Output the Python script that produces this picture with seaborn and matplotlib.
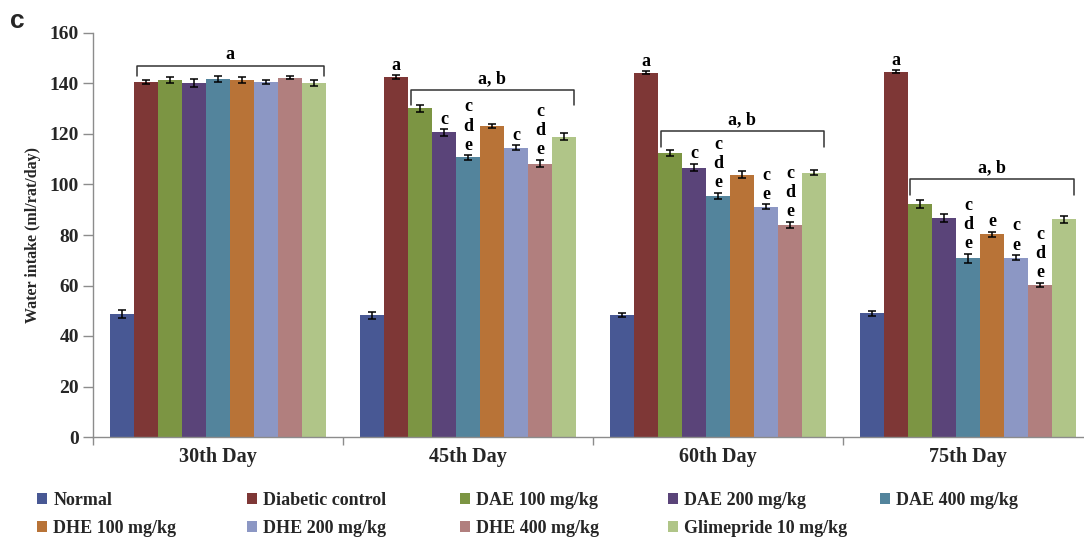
import numpy as np
import pandas as pd
import matplotlib
matplotlib.use("Agg")
import matplotlib.pyplot as plt
import seaborn as sns

# ---------------- data ----------------
days = ["30th Day", "45th Day", "60th Day", "75th Day"]
groups = ["Normal", "Diabetic control", "DAE 100 mg/kg", "DAE 200 mg/kg",
          "DAE 400 mg/kg", "DHE 100 mg/kg", "DHE 200 mg/kg", "DHE 400 mg/kg",
          "Glimepride 10 mg/kg"]

normal   = [48.6, 48.2, 48.5, 49.0]
diabetic = [140.6, 142.6, 144.3, 144.7]
dae100   = [141.3, 130.1, 112.6, 92.3]
dae200   = [140.2, 120.6, 106.7, 86.7]
dae400   = [141.6, 110.7, 95.4, 70.8]
dhe100   = [141.4, 123.0, 103.9, 80.3]
dhe200   = [140.6, 114.6, 91.1, 71.0]
dhe400   = [142.2, 108.3, 84.0, 60.3]
glim     = [140.2, 119.0, 104.6, 86.2]

err_normal   = [1.5, 1.3, 0.8, 1.0]
err_diabetic = [0.8, 0.7, 0.6, 0.6]
err_dae100   = [1.3, 1.5, 1.2, 1.5]
err_dae200   = [1.5, 1.2, 1.5, 1.5]
err_dae400   = [1.2, 0.8, 1.3, 1.8]
err_dhe100   = [1.3, 0.8, 1.5, 1.0]
err_dhe200   = [0.8, 1.0, 1.0, 1.0]
err_dhe400   = [0.6, 1.5, 1.2, 0.8]
err_glim     = [1.0, 1.2, 1.0, 1.5]

# significance letters above each bar (per day, in group order)
letters_30 = ["", "", "", "", "", "", "", "", ""]
letters_45 = ["", "a", "", "c", "cde", "", "c", "cde", ""]
letters_60 = ["", "a", "", "c", "cde", "", "ce", "cde", ""]
letters_75 = ["", "a", "", "", "cde", "e", "ce", "cde", ""]

bracket_labels = ["a", "a, b", "a, b", "a, b"]
bracket_first = [1, 2, 2, 2]
bracket_last = [8, 8, 8, 8]
bracket_top = [147.0, 137.4, 121.2, 102.2]
bracket_drop = [4.0, 6.0, 6.5, 6.4]

colors = ["#485894", "#7E3736", "#7C9543", "#5A4479", "#53849C",
          "#B87337", "#8C97C4", "#B17F7E", "#B0C588"]

values = [normal, diabetic, dae100, dae200, dae400, dhe100, dhe200, dhe400, glim]
errors = [err_normal, err_diabetic, err_dae100, err_dae200, err_dae400,
          err_dhe100, err_dhe200, err_dhe400, err_glim]
letters = [letters_30, letters_45, letters_60, letters_75]

rows = []
for g, vals, errs in zip(groups, values, errors):
    for d, v, e in zip(days, vals, errs):
        rows.append({"day": d, "group": g, "value": v, "err": e})
df = pd.DataFrame(rows)

# ---------------- plot ----------------
sns.set_theme(style="white")
plt.rcParams["font.family"] = ["Liberation Serif", "DejaVu Serif"]

fig = plt.figure(figsize=(10.84, 5.38), dpi=100)
ax = fig.add_axes([93 / 1084, 101 / 538, 1000 / 1084, 404 / 538])

sns.barplot(data=df, x="day", y="value", hue="group", order=days,
            hue_order=groups, palette=colors, width=0.864, gap=0,
            errorbar=None, saturation=1, linewidth=0, ax=ax)

handles, labels = ax.get_legend_handles_labels()
if ax.get_legend() is not None:
    ax.get_legend().remove()

# bar centres from the drawn patches
centers = np.zeros((len(groups), len(days)))
widths = np.zeros((len(groups), len(days)))
for gi, cont in enumerate(ax.containers):
    for di, p in enumerate(cont.patches):
        centers[gi, di] = p.get_x() + p.get_width() / 2
        widths[gi, di] = p.get_width()

vals_arr = np.array(values)
errs_arr = np.array(errors)
ax.errorbar(centers.ravel(), vals_arr.ravel(), yerr=errs_arr.ravel(),
            fmt="none", ecolor="black", elinewidth=1.1, capsize=3.2,
            capthick=1.1, zorder=5)

# letters
step = 7.6
for di in range(len(days)):
    for gi in range(len(groups)):
        s = letters[di][gi]
        if not s:
            continue
        base = vals_arr[gi, di] + errs_arr[gi, di] + 4.0
        for k, ch in enumerate(reversed(s)):
            ax.text(centers[gi, di], base + k * step, ch, ha="center",
                    va="center", fontsize=13, fontweight="bold", color="black")

# brackets
for di in range(len(days)):
    x0 = centers[bracket_first[di], di] - widths[bracket_first[di], di] / 2 + 0.01
    x1 = centers[bracket_last[di], di] + widths[bracket_last[di], di] / 2 - 0.01
    yt = bracket_top[di]
    yb = yt - bracket_drop[di]
    ax.plot([x0, x0, x1, x1], [yb, yt, yt, yb], color="#333333", lw=1.1,
            solid_joinstyle="round", zorder=4)
    ax.text((x0 + x1) / 2, yt + 1.0, bracket_labels[di], ha="center",
            va="bottom", fontsize=13, fontweight="bold", color="black")

# axes styling
ax.set_ylim(0, 160)
ax.set_xlim(-0.5, 3.5)
ax.set_yticks(np.arange(0, 161, 20))
ax.set_xlabel("")
ax.set_ylabel("Water intake (ml/rat/day)", fontsize=11.5, fontweight="bold",
              labelpad=6)
for sp in ["top", "right"]:
    ax.spines[sp].set_visible(False)
for sp in ["left", "bottom"]:
    ax.spines[sp].set_color("#8c8c8c")
    ax.spines[sp].set_linewidth(1.0)
ax.tick_params(axis="y", which="major", direction="out", length=7,
               color="#8c8c8c", width=1, left=True, labelsize=14, pad=3)
ax.tick_params(axis="x", which="major", length=0, labelsize=14.5, pad=7)
ax.set_xticks([-0.5, 0.5, 1.5, 2.5, 3.5], minor=True)
ax.tick_params(axis="x", which="minor", direction="out", length=6,
               color="#8c8c8c", width=1, bottom=True)
for lab in ax.get_xticklabels() + ax.get_yticklabels():
    lab.set_fontweight("bold")

# legend: one small legend per column
col_x = [28, 238, 451, 659, 871]
for c in range(5):
    idx = [i for i in (c, c + 5) if i < len(groups)]
    leg = fig.legend([handles[i] for i in idx], [labels[i] for i in idx],
                     loc="upper left", bbox_to_anchor=(col_x[c] / 1084, 1 - 483 / 538),
                     frameon=False, handlelength=0.55, handleheight=0.55,
                     handletextpad=0.35, labelspacing=0.6, borderpad=0,
                     prop={"family": "Liberation Serif", "weight": "bold",
                           "size": 13})

fig.text(10 / 1084, 1 - 21 / 538, "c", fontsize=19, fontweight="bold",
         family="Liberation Sans", va="center", ha="left")

fig.savefig("out.png", dpi=100)
